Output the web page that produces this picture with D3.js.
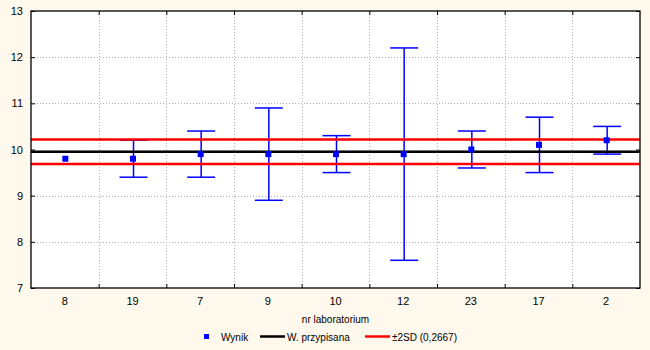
<!DOCTYPE html>
<html>
<head>
<meta charset="utf-8">
<script src="https://cdn.jsdelivr.net/npm/d3@7/dist/d3.min.js"></script>
<style>
  html, body { margin: 0; padding: 0; background: #fef9ec; }
  svg { display: block; font-family: "Liberation Sans", Arial, sans-serif; }
</style>
</head>
<body>
<svg id="chart" width="650" height="350"></svg>
<script>
// Laboratory results with uncertainty (mean ± half-width)
const labs = ["8", "19", "7", "9", "10", "12", "23", "17", "2"];
const results = [9.8, 9.8, 9.9, 9.9, 9.9, 9.9, 10.0, 10.1, 10.2];
const uncertainty = [0, 0.4, 0.5, 1.0, 0.4, 2.3, 0.4, 0.6, 0.3];
const assignedValue = [9.95];
const twoSD = [0.2667];
const yTicks = [7, 8, 9, 10, 11, 12, 13];

const margin = { top: 11, right: 10, bottom: 62, left: 31 };
const W = 650, H = 350;
const pw = W - margin.left - margin.right;
const ph = H - margin.top - margin.bottom;

const svg = d3.select("#chart");
const g = svg.append("g").attr("transform", `translate(${margin.left},${margin.top})`);

const x = d3.scaleBand().domain(labs).range([0, pw]).padding(0);
const y = d3.scaleLinear().domain([7, 13]).range([ph, 0]);

// plot area
g.append("rect").attr("width", pw).attr("height", ph).attr("fill", "#ffffff");

// grid
const grid = g.append("g").attr("stroke", "#b4b4b4").attr("stroke-dasharray", "1,2").attr("stroke-width", 1);
grid.selectAll("line.h").data(yTicks.slice(1, -1)).join("line")
  .attr("x1", 0).attr("x2", pw)
  .attr("y1", d => Math.round(y(d)) + 0.5).attr("y2", d => Math.round(y(d)) + 0.5);
grid.selectAll("line.v").data(labs.slice(1)).join("line")
  .attr("x1", d => Math.round(x(d)) + 0.5).attr("x2", d => Math.round(x(d)) + 0.5)
  .attr("y1", 0).attr("y2", ph);

// axes (ticks point inward on all sides)
const axisLeft = d3.axisLeft(y).tickValues(yTicks).tickFormat(d3.format("d")).tickSize(-4).tickPadding(8);
const axisRight = d3.axisRight(y).tickValues(yTicks).tickSize(-4).tickFormat("");
const boundaries = labs.slice(1).map(d => x(d));
const xb = d3.scaleLinear().domain([0, pw]).range([0, pw]);
const axisBottomTicks = d3.axisBottom(xb).tickValues(boundaries).tickSize(-4).tickFormat("");
const axisTopTicks = d3.axisTop(xb).tickValues(boundaries).tickSize(-4).tickFormat("");

function styleAxis(sel) {
  sel.select(".domain").remove();
  sel.selectAll(".tick line").attr("stroke", "#000").attr("stroke-width", 1);
  sel.selectAll("text").attr("fill", "#000").attr("font-size", 11)
    .attr("font-family", "'Liberation Sans', Arial, sans-serif");
}
g.append("g").call(axisLeft).call(styleAxis);
g.append("g").attr("transform", `translate(${pw},0)`).call(axisRight).call(styleAxis);
g.append("g").attr("transform", `translate(0,${ph})`).call(axisBottomTicks).call(styleAxis);
g.append("g").call(axisTopTicks).call(styleAxis);

// category labels
g.append("g").selectAll("text").data(labs).join("text")
  .attr("x", d => x(d) + x.bandwidth() / 2)
  .attr("y", ph + 17)
  .attr("text-anchor", "middle")
  .attr("font-size", 11)
  .attr("fill", "#000")
  .text(d => d);

// axis title
svg.append("text")
  .attr("x", margin.left + pw / 2)
  .attr("y", 323)
  .attr("text-anchor", "middle")
  .attr("font-size", 10)
  .attr("fill", "#000")
  .text("nr laboratorium");

// error bars
const cx = d => x(d) + x.bandwidth() / 2 + 1;
const capW = 14;
const eb = g.append("g").attr("stroke", "#0000ff").attr("stroke-width", 1.5);
labs.forEach((lab, i) => {
  if (uncertainty[i] <= 0) return;
  const hi = y(results[i] + uncertainty[i]);
  const lo = y(results[i] - uncertainty[i]);
  const c = cx(lab);
  eb.append("line").attr("x1", c).attr("x2", c).attr("y1", hi).attr("y2", lo);
  eb.append("line").attr("x1", c - capW).attr("x2", c + capW).attr("y1", hi).attr("y2", hi);
  eb.append("line").attr("x1", c - capW).attr("x2", c + capW).attr("y1", lo).attr("y2", lo);
});

// reference lines
const refs = [
  { v: assignedValue[0] + twoSD[0], c: "#ff0000" },
  { v: assignedValue[0] - twoSD[0], c: "#ff0000" },
  { v: assignedValue[0], c: "#000000" }
];
g.append("g").selectAll("line").data(refs).join("line")
  .attr("x1", 0).attr("x2", pw)
  .attr("y1", d => y(d.v)).attr("y2", d => y(d.v))
  .attr("stroke", d => d.c).attr("stroke-width", 2.5);

// result markers
g.append("g").selectAll("rect").data(labs).join("rect")
  .attr("x", d => cx(d) - 3.5)
  .attr("y", (d, i) => y(results[i]) - 3)
  .attr("width", 6).attr("height", 6)
  .attr("fill", "#0000ff");

// frame
g.append("rect").attr("width", pw).attr("height", ph)
  .attr("fill", "none").attr("stroke", "#000").attr("stroke-width", 1.3);

// legend
const lg = svg.append("g").attr("font-size", 10).attr("fill", "#000");
lg.append("rect").attr("x", 204).attr("y", 334).attr("width", 5).attr("height", 5).attr("fill", "#0000ff");
lg.append("text").attr("x", 221).attr("y", 340.5).text("Wynik");
lg.append("line").attr("x1", 260).attr("x2", 285).attr("y1", 336.5).attr("y2", 336.5)
  .attr("stroke", "#000").attr("stroke-width", 2.5);
lg.append("text").attr("x", 287).attr("y", 340.5).text("W. przypisana");
lg.append("line").attr("x1", 365).attr("x2", 390).attr("y1", 336.5).attr("y2", 336.5)
  .attr("stroke", "#ff0000").attr("stroke-width", 2.5);
lg.append("text").attr("x", 392).attr("y", 340.5).text("±2SD (0,2667)");
</script>
</body>
</html>
